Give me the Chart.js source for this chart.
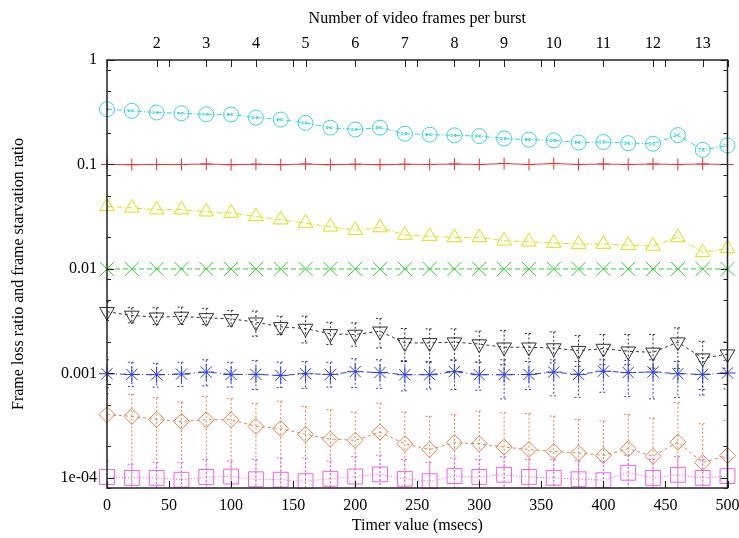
<!DOCTYPE html>
<html>
<head>
<meta charset="utf-8">
<script src="https://cdn.jsdelivr.net/npm/chart.js@4.4.1/dist/chart.umd.min.js"></script>
<style>
  body { margin: 0; background: #fff; }
  #wrap { width: 739px; height: 538px; }
</style>
</head>
<body>
<div id="wrap"><canvas id="burstChart" width="739" height="538"></canvas></div>
<script>
// timer values (msecs) on the bottom axis
var timerValues = [0, 20, 40, 60, 80, 100, 120, 140, 160, 180, 200, 220, 240,
                   260, 280, 300, 320, 340, 360, 380, 400, 420, 440, 460, 480, 500];

// series
var cyanCircle = [0.338, 0.326, 0.314, 0.309, 0.302, 0.301, 0.281, 0.269, 0.250, 0.225, 0.216, 0.225, 0.197,
                  0.193, 0.190, 0.187, 0.177, 0.173, 0.170, 0.162, 0.164, 0.160, 0.158, 0.191, 0.138, 0.152];
var cyanErr = [0.006, 0.006, 0.005, 0.005, 0.005, 0.005, 0.005, 0.005, 0.005, 0.004, 0.004, 0.005, 0.004,
               0.004, 0.004, 0.004, 0.004, 0.004, 0.004, 0.004, 0.004, 0.004, 0.004, 0.005, 0.004, 0.004];
var redPlus = [0.1, 0.0995, 0.1, 0.1, 0.101, 0.0995, 0.1005, 0.0995, 0.101, 0.0995, 0.1005, 0.0995, 0.1005,
               0.1, 0.101, 0.1, 0.102, 0.1, 0.102, 0.1, 0.101, 0.1, 0.101, 0.1, 0.101, 0.1];
var yellowTriangle = [0.0397, 0.0384, 0.0369, 0.0369, 0.0353, 0.0343, 0.0318, 0.0296, 0.0275, 0.0253, 0.0235, 0.0249, 0.0211,
                      0.0205, 0.0200, 0.0200, 0.0186, 0.0182, 0.0177, 0.0173, 0.0173, 0.0169, 0.0166, 0.0200, 0.0144, 0.0157];
var greenCross = [0.01, 0.01, 0.01, 0.01, 0.01, 0.01, 0.01, 0.01, 0.01, 0.01, 0.01, 0.01, 0.01,
                  0.01, 0.01, 0.01, 0.01, 0.01, 0.01, 0.01, 0.01, 0.01, 0.01, 0.01, 0.01, 0.01];
var blackTriangle = [0.00389, 0.00359, 0.00345, 0.00351, 0.00340, 0.00333, 0.00309, 0.00279, 0.00269, 0.00239, 0.00236, 0.00253, 0.00196,
                     0.00196, 0.00199, 0.00191, 0.00178, 0.00178, 0.00175, 0.00165, 0.00173, 0.00163, 0.00159, 0.00199, 0.00140, 0.00153];
var blackHigh = [0.00485, 0.00425, 0.00425, 0.00431, 0.00419, 0.00401, 0.00395, 0.00353, 0.00353, 0.00309, 0.00305, 0.00336, 0.00269,
                 0.00267, 0.00267, 0.00254, 0.00257, 0.00241, 0.00250, 0.00230, 0.00236, 0.00236, 0.00236, 0.00273, 0.00203, 0.00200];
var blackLow = [0.00321, 0.00305, 0.00294, 0.00294, 0.00294, 0.00283, 0.00227, 0.00236, 0.00196, 0.00189, 0.00182, 0.00175, 0.00130,
                0.00130, 0.00135, 0.00128, 0.00121, 0.00130, 0.00126, 0.00117, 0.00121, 0.00121, 0.00112, 0.00111, 0.00070, 0.00112];
var blueStar = [0.000993, 0.000978, 0.000972, 0.000985, 0.00103, 0.000978, 0.000978, 0.000957, 0.000993, 0.000978, 0.00104, 0.00102, 0.000972,
                0.000972, 0.00104, 0.000972, 0.000972, 0.000978, 0.00103, 0.000978, 0.00105, 0.00102, 0.00103, 0.000993, 0.000978, 0.00101];
var blueHigh = [0.00135, 0.00128, 0.00125, 0.00128, 0.00135, 0.00128, 0.00133, 0.00128, 0.00130, 0.00128, 0.00138, 0.00135, 0.00133,
                0.00128, 0.00133, 0.00128, 0.00135, 0.00130, 0.00135, 0.00130, 0.00135, 0.00133, 0.00135, 0.00130, 0.00130, 0.00133];
var blueLow = [0.00073, 0.00075, 0.00074, 0.00075, 0.00076, 0.00074, 0.00070, 0.00073, 0.00072, 0.00074, 0.00073, 0.00072, 0.00068,
               0.00071, 0.00070, 0.00069, 0.00057, 0.00070, 0.00061, 0.00059, 0.00066, 0.00060, 0.00057, 0.00059, 0.00062, 0.00071];
var orangeDiamond = [4.03e-4, 3.88e-4, 3.63e-4, 3.47e-4, 3.60e-4, 3.60e-4, 3.11e-4, 2.96e-4, 2.61e-4, 2.35e-4, 2.29e-4, 2.74e-4, 2.12e-4,
                     1.87e-4, 2.17e-4, 2.12e-4, 1.97e-4, 1.87e-4, 1.79e-4, 1.73e-4, 1.64e-4, 1.90e-4, 1.61e-4, 2.20e-4, 1.40e-4, 1.64e-4];
var orangeHigh = [6.4e-4, 6.3e-4, 5.85e-4, 5.31e-4, 6.03e-4, 5.73e-4, 5.13e-4, 5.43e-4, 4.83e-4, 4.50e-4, 4.26e-4, 5.20e-4, 4.26e-4,
                  3.88e-4, 4.03e-4, 4.36e-4, 4.21e-4, 4.12e-4, 3.90e-4, 3.63e-4, 3.50e-4, 4.03e-4, 3.73e-4, 5.25e-4, 3.30e-4, 3.55e-4];
var orangeLow = [5e-5, 5e-5, 5e-5, 5e-5, 5e-5, 5e-5, 5e-5, 5e-5, 5e-5, 5e-5, 5e-5, 5e-5, 5e-5,
                 5e-5, 5e-5, 5e-5, 5e-5, 5e-5, 5e-5, 5e-5, 5e-5, 5e-5, 5e-5, 5e-5, 5e-5, 5e-5];
var magentaSquare = [1.02e-4, 1.0e-4, 1.0e-4, 0.96e-4, 1.02e-4, 1.03e-4, 0.97e-4, 0.96e-4, 0.93e-4, 0.98e-4, 1.03e-4, 1.08e-4, 0.98e-4,
                     0.93e-4, 1.04e-4, 1.02e-4, 1.07e-4, 1.02e-4, 1.0e-4, 0.97e-4, 0.95e-4, 1.12e-4, 1.0e-4, 1.07e-4, 1.0e-4, 1.04e-4];
var magentaHigh = [1.45e-4, 1.35e-4, 1.4e-4, 1.4e-4, 1.5e-4, 1.45e-4, 1.5e-4, 1.55e-4, 1.55e-4, 1.45e-4, 1.6e-4, 1.65e-4, 1.5e-4,
                   1.4e-4, 1.55e-4, 1.5e-4, 1.6e-4, 1.5e-4, 1.5e-4, 1.45e-4, 1.45e-4, 1.65e-4, 1.5e-4, 1.6e-4, 1.5e-4, 1.55e-4];
var magentaLow = [5e-5, 5e-5, 5e-5, 5e-5, 5e-5, 5e-5, 5e-5, 5e-5, 5e-5, 5e-5, 5e-5, 5e-5, 5e-5,
                  5e-5, 5e-5, 5e-5, 5e-5, 5e-5, 5e-5, 5e-5, 5e-5, 5e-5, 5e-5, 5e-5, 5e-5, 5e-5];

// tick marks and labels
var xTickValues = [0, 50, 100, 150, 200, 250, 300, 350, 400, 450, 500];
var topTickValues = [2, 3, 4, 5, 6, 7, 8, 9, 10, 11, 12, 13];
var yTickValues = [1e-4, 1e-3, 1e-2, 1e-1, 1];
var yTickLabels = ['1e-04', '0.001', '0.01', '0.1', '1'];

var serif = '"Liberation Serif", "DejaVu Serif", serif';

function points(vals) {
  return vals.map(function(v, i) { return { x: timerValues[i], y: v }; });
}

function makeSeries(vals, color, style, radius, dash, extra) {
  var ds = {
    data: points(vals),
    borderColor: color,
    borderWidth: 1,
    borderDash: dash,
    pointStyle: style,
    pointRadius: radius,
    pointHoverRadius: radius,
    pointBorderColor: color,
    pointBorderWidth: 1,
    pointBackgroundColor: 'rgba(0,0,0,0)',
    fill: false,
    tension: 0,
    clip: false
  };
  for (var k in extra) ds[k] = extra[k];
  return ds;
}

var datasets = [
  makeSeries(cyanCircle, '#35d4e4', 'circle', 7.5, [5, 2, 1, 2], {
    errHigh: cyanCircle.map(function(v, i) { return v + cyanErr[i]; }),
    errLow: cyanCircle.map(function(v, i) { return v - cyanErr[i]; })
  }),
  makeSeries(redPlus, '#f03030', 'cross', 6, [], {}),
  makeSeries(yellowTriangle, '#dede10', 'triangle', 8.5, [5, 2, 1, 2], {}),
  makeSeries(greenCross, '#30d030', 'crossRot', 10, [5, 3], {}),
  makeSeries(blackTriangle, '#303030', 'triangle', 8.5, [3, 3], { pointRotation: 180, errHigh: blackHigh, errLow: blackLow }),
  makeSeries(blueStar, '#2a3cf0', 'star', 8, [6, 3, 1, 3], { errHigh: blueHigh, errLow: blueLow }),
  makeSeries(orangeDiamond, '#f0804a', 'rectRot', 8, [3, 3], { errHigh: orangeHigh, errLow: orangeLow }),
  makeSeries(magentaSquare, '#f060f0', 'rect', 10.5, [1, 2], { errHigh: magentaHigh, errLow: magentaLow })
];

// error bars drawn through the chart's own scales
var errorBarPlugin = {
  id: 'errorBars',
  beforeDatasetsDraw: function(chart) {
    var ctx = chart.ctx, area = chart.chartArea;
    var xs = chart.scales.x, ys = chart.scales.y;
    ctx.save();
    ctx.beginPath();
    ctx.rect(area.left, area.top, area.right - area.left, area.bottom - area.top);
    ctx.clip();
    chart.data.datasets.forEach(function(ds) {
      if (!ds.errHigh) return;
      ctx.strokeStyle = ds.borderColor;
      ctx.lineWidth = 1;
      ctx.setLineDash([2, 2]);
      ds.data.forEach(function(p, i) {
        var px = xs.getPixelForValue(p.x);
        var top = ys.getPixelForValue(ds.errHigh[i]);
        var bot = ys.getPixelForValue(ds.errLow[i]);
        ctx.beginPath();
        ctx.moveTo(px, top); ctx.lineTo(px, bot);
        ctx.moveTo(px - 4, top); ctx.lineTo(px + 4, top);
        ctx.moveTo(px - 4, bot); ctx.lineTo(px + 4, bot);
        ctx.stroke();
      });
    });
    ctx.restore();
  }
};

// gnuplot-like frame with inward ticks
var framePlugin = {
  id: 'frame',
  afterDraw: function(chart) {
    var ctx = chart.ctx, a = chart.chartArea;
    var xs = chart.scales.x, x2 = chart.scales.x2, ys = chart.scales.y;
    ctx.save();
    ctx.strokeStyle = '#222';
    ctx.lineWidth = 1.5;
    ctx.strokeRect(a.left, a.top, a.right - a.left, a.bottom - a.top);
    ctx.lineWidth = 1;
    ctx.beginPath();
    xTickValues.forEach(function(v) {
      var px = Math.round(xs.getPixelForValue(v)) + 0.5;
      ctx.moveTo(px, a.bottom); ctx.lineTo(px, a.bottom - 7);
      ctx.moveTo(px, a.top); ctx.lineTo(px, a.top + 7);
    });
    topTickValues.forEach(function(v) {
      var px = Math.round(x2.getPixelForValue(v)) + 0.5;
      ctx.moveTo(px, a.top); ctx.lineTo(px, a.top + 7);
    });
    yTickValues.forEach(function(v) {
      var py = Math.round(ys.getPixelForValue(v)) + 0.5;
      ctx.moveTo(a.left, py); ctx.lineTo(a.left + 7, py);
      ctx.moveTo(a.right, py); ctx.lineTo(a.right - 7, py);
      [2, 5, 8].forEach(function(m) {
        var mv = v * m / 10;
        if (mv < ys.min) return;
        var my = Math.round(ys.getPixelForValue(mv)) + 0.5;
        ctx.moveTo(a.left, my); ctx.lineTo(a.left + 4, my);
        ctx.moveTo(a.right, my); ctx.lineTo(a.right - 4, my);
      });
    });
    ctx.stroke();
    ctx.restore();
  }
};

function noEdgePadding(scale) {
  scale.paddingLeft = 0;
  scale.paddingRight = 0;
  scale.paddingTop = 0;
  scale.paddingBottom = 0;
}

var ctx = document.getElementById('burstChart').getContext('2d');

var burstChart = new Chart(ctx, {
  type: 'line',
  data: { datasets: datasets },
  plugins: [errorBarPlugin, framePlugin],
  options: {
    responsive: false,
    animation: false,
    layout: { padding: { left: 0, right: 11, top: 0, bottom: 0 } },
    plugins: { legend: { display: false }, tooltip: { enabled: false } },
    scales: {
      x: {
        type: 'linear',
        position: 'bottom',
        min: 0,
        max: 500,
        afterBuildTicks: function(scale) {
          scale.ticks = xTickValues.map(function(v) { return { value: v }; });
        },
        afterFit: function(scale) { scale.height = 50; noEdgePadding(scale); },
        grid: { display: false, drawTicks: false },
        border: { display: false },
        ticks: { padding: 8, color: '#000', font: { family: serif, size: 16 }, maxRotation: 0 },
        title: { display: true, text: 'Timer value (msecs)', color: '#000',
                 font: { family: serif, size: 16 }, padding: { top: 0, bottom: 3 } }
      },
      x2: {
        type: 'linear',
        position: 'top',
        min: 1,
        max: 13.5,
        afterBuildTicks: function(scale) {
          scale.ticks = topTickValues.map(function(v) { return { value: v }; });
        },
        afterFit: function(scale) { scale.height = 60; noEdgePadding(scale); },
        grid: { display: false, drawTicks: false },
        border: { display: false },
        ticks: { padding: 7, color: '#000', font: { family: serif, size: 16 }, maxRotation: 0 },
        title: { display: true, text: 'Number of video frames per burst', color: '#000',
                 font: { family: serif, size: 16 }, padding: { top: 9, bottom: 0 } }
      },
      y: {
        type: 'logarithmic',
        position: 'left',
        min: 8e-5,
        max: 1,
        afterBuildTicks: function(scale) {
          scale.ticks = yTickValues.map(function(v) { return { value: v }; });
        },
        afterFit: function(scale) { scale.width = 107; noEdgePadding(scale); },
        grid: { display: false, drawTicks: false },
        border: { display: false },
        ticks: {
          padding: 10, color: '#000', font: { family: serif, size: 16 },
          callback: function(value) {
            var i = yTickValues.indexOf(value);
            return i >= 0 ? yTickLabels[i] : '';
          }
        },
        title: { display: true, text: 'Frame loss ratio and frame starvation ratio', color: '#000',
                 font: { family: serif, size: 16 }, padding: { top: 9, bottom: 0 } }
      }
    }
  }
});
</script>
</body>
</html>
